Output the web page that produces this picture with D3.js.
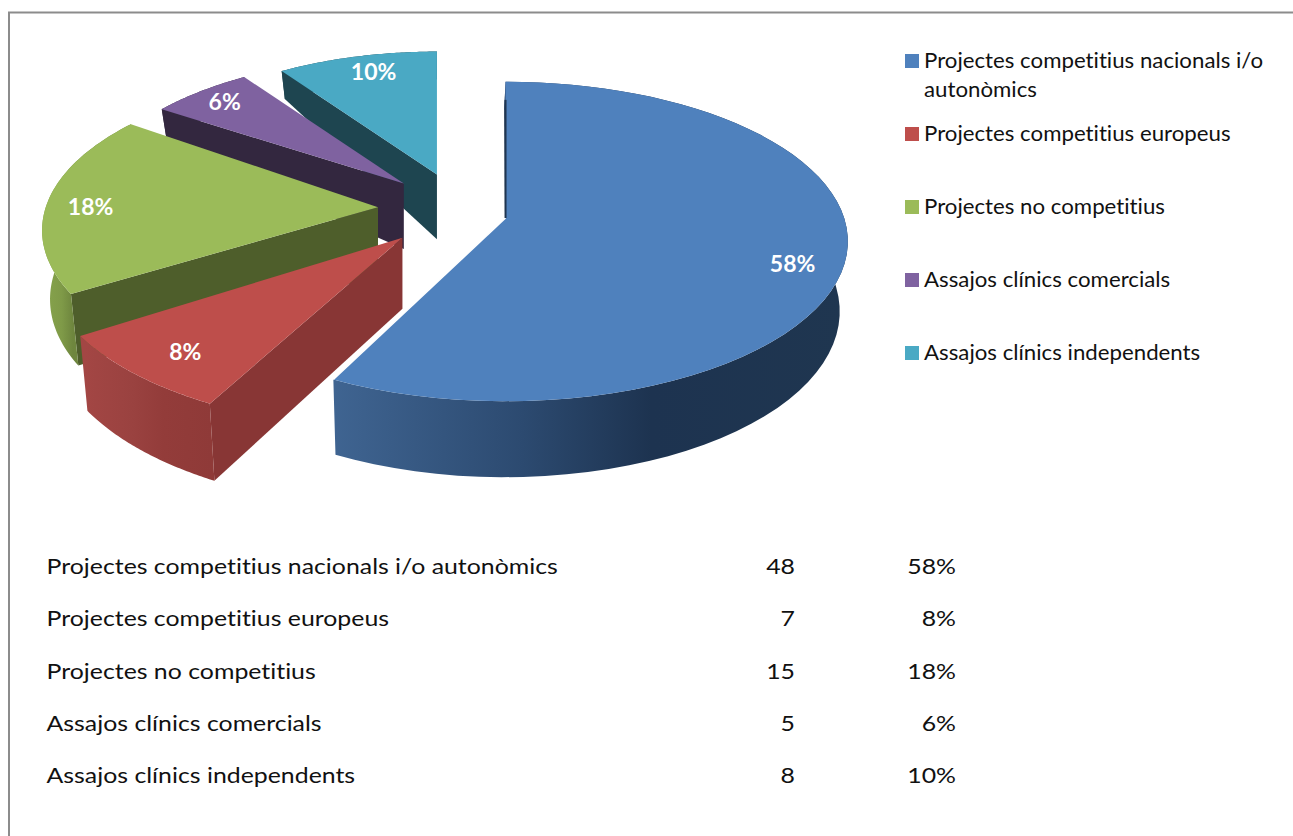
<!DOCTYPE html>
<html><head><meta charset="utf-8">
<script src="https://cdn.jsdelivr.net/npm/d3@7/dist/d3.min.js"></script>
<style>html,body{margin:0;padding:0;background:#fff;overflow:hidden}svg{display:block}text{font-family:Lato,"Open Sans",sans-serif;font-variant-ligatures:none}</style>
</head><body><svg id="c" width="1293" height="836"></svg>
<script>
const categories=["Projectes competitius nacionals i/o autonòmics","Projectes competitius europeus","Projectes no competitius","Assajos clínics comercials","Assajos clínics independents"];
const counts=[48,7,15,5,8];
const percentLabels=["58%","8%","18%","6%","10%"];
const legendLines=[["Projectes competitius nacionals i/o","autonòmics"],["Projectes competitius europeus"],["Projectes no competitius"],["Assajos clínics comercials"],["Assajos clínics independents"]];
const topColors=["#4F81BD","#BE4E4B","#9BBB59","#7F62A0","#4AA9C4"];
const faceColors=["#1F3550","#883635","#4E5E2B","#33273F","#1E4550"];
const wallStops=[["#3F6491","#2C4A70","#1D3350","#1F3650"],["#A34644","#9A4240","#933C3A","#8F3A38"],["#86A34C","#7F9A48","#6E863E","#6E863E"],["#33273F","#33273F","#33273F","#33273F"],["#1E4550","#1E4550","#1E4550","#1E4550"]];

const svg=d3.select("#c");
const defs=svg.append("defs");
const G={cx:442.5,cy:208,ex:64.5,eyFront:41,eyBack:35,skew:15,skewFront:8,R:338,K:156,p:0.147};
const endWarp=[-2,-2,2.5,0,0].map(d=>d*Math.PI/180);
const radiusScale=[1,1,.985,1,1];
const pie=d3.pie().sort(null).startAngle(0).endAngle(2*Math.PI);
const arcs=pie(counts);
const line=d3.line();

function slice(a,i){
  const phi=(a.startAngle+a.endAngle)/2, sinP=Math.sin(phi), cosP=Math.cos(phi), back=Math.max(0,cosP), front=Math.max(0,-cosP);
  const ax=G.cx+G.ex*sinP+G.skew*back*back+G.skewFront*front*front;
  const ay=G.cy-(cosP>0?G.eyBack:G.eyFront)*cosP;
  const s=(1-0.1*back+0.13*front*front*front)*radiusScale[i];
  const h0=68+(ay-208)*0.1;
  const top=(th,r=1)=>{const u=r*Math.sin(th),v=-r*Math.cos(th),w=1-G.p*v;return [ax+s*G.R*u/w,ay+s*G.K*v/w];};
  const height=(v)=>v<0?Math.max(28,h0+55*v):h0+7*v;
  const bot=(th,r=1)=>{const q=top(th,r),v=-r*Math.cos(th);return [q[0]-0.02*(q[0]-440),q[1]+height(v)];};
  return {top,bot,apexTop:[ax,ay],apexBot:[ax,ay+h0]};
}
const sweep=(a,i)=>{const e=a.endAngle+endWarp[i];return d3.range(0,65).map(k=>a.startAngle+(e-a.startAngle)*k/64);};

// frame
const frame=svg.append("g").attr("stroke","#8c8c8c").attr("stroke-width",2).attr("fill","none");
frame.append("path").attr("d",line([[9,836],[9,12.5],[1293,12.5]]));

// draw back to front
const order=[4,3,2,1,0];
const pieG=svg.append("g");
order.forEach(i=>{
  const a=arcs[i],S=slice(a,i),ths=sweep(a,i);
  const gid="wall"+i;
  const gr=defs.append("linearGradient").attr("id",gid).attr("gradientUnits","userSpaceOnUse")
    .attr("x1",i==0?335:i==1?85:45).attr("x2",i==0?845:i==1?212:90).attr("y1",0).attr("y2",0);
  wallStops[i].forEach((c,k)=>gr.append("stop").attr("offset",[0,.37,.62,1][k]).attr("stop-color",c));
  pieG.append("path").attr("fill",faceColors[i])
    .attr("d",line([S.apexTop,S.top(a.startAngle),S.bot(a.startAngle),S.apexBot])+"Z");
  pieG.append("path").attr("fill",`url(#${gid})`)
    .attr("d",line(ths.map(t=>S.top(t)).concat(ths.slice().reverse().map(t=>S.bot(t))))+"Z");
  pieG.append("path").attr("fill",topColors[i])
    .attr("d",line([S.apexTop].concat(ths.map(t=>S.top(t))))+"Z");
  if(i==0){
    pieG.append("path").attr("fill","none").attr("stroke","#fff").attr("stroke-width",1.5)
      .attr("d",line([S.apexTop,S.top(ths[ths.length-1])]));
    pieG.append("path").attr("fill","none").attr("stroke",faceColors[0]).attr("stroke-width",2)
      .attr("d",line([S.top(a.startAngle,.85),S.apexTop]));
  }
});

// data labels
const labelR=[.86,.84,.865,.87,.85];
const labelShift=[5,-2,-1,0,1.5].map(d=>d*Math.PI/180);
const labelG=svg.append("g").attr("fill","#fff").attr("font-weight",700).attr("font-size",23).attr("text-anchor","middle");
arcs.forEach((a,i)=>{
  const S=slice(a,i),phi=(a.startAngle+a.endAngle)/2+labelShift[i],q=S.top(phi,labelR[i]);
  labelG.append("text").attr("x",q[0]).attr("y",q[1]+8).text(percentLabels[i]);
});

// legend
const legendY=d3.scaleLinear().domain([1,4]).range([134,353]);
const legend=svg.append("g").attr("font-size",21).attr("fill","#111");
legendLines.forEach((ls,i)=>{
  const yy=i==0?61:legendY(i);
  legend.append("rect").attr("x",905).attr("y",yy-7).attr("width",14).attr("height",14).attr("fill",topColors[i]);
  ls.forEach((t,k)=>legend.append("text").attr("transform",`translate(924,${yy+7+k*29}) scale(1.06,1)`).text(t));
});

// table
const rowY=d3.scaleLinear().domain([0,4]).range([574,783]);
const table=svg.append("g").attr("font-size",22).attr("fill","#111");
const cell=(x,y,anchor,t)=>table.append("text").attr("transform",`translate(${x},${y}) scale(1.13,1)`).attr("text-anchor",anchor).text(t);
categories.forEach((c,i)=>{
  cell(46.5,rowY(i),"start",c);
  cell(795,rowY(i),"end",counts[i]);
  cell(956,rowY(i),"end",percentLabels[i]);
});
</script></body></html>
